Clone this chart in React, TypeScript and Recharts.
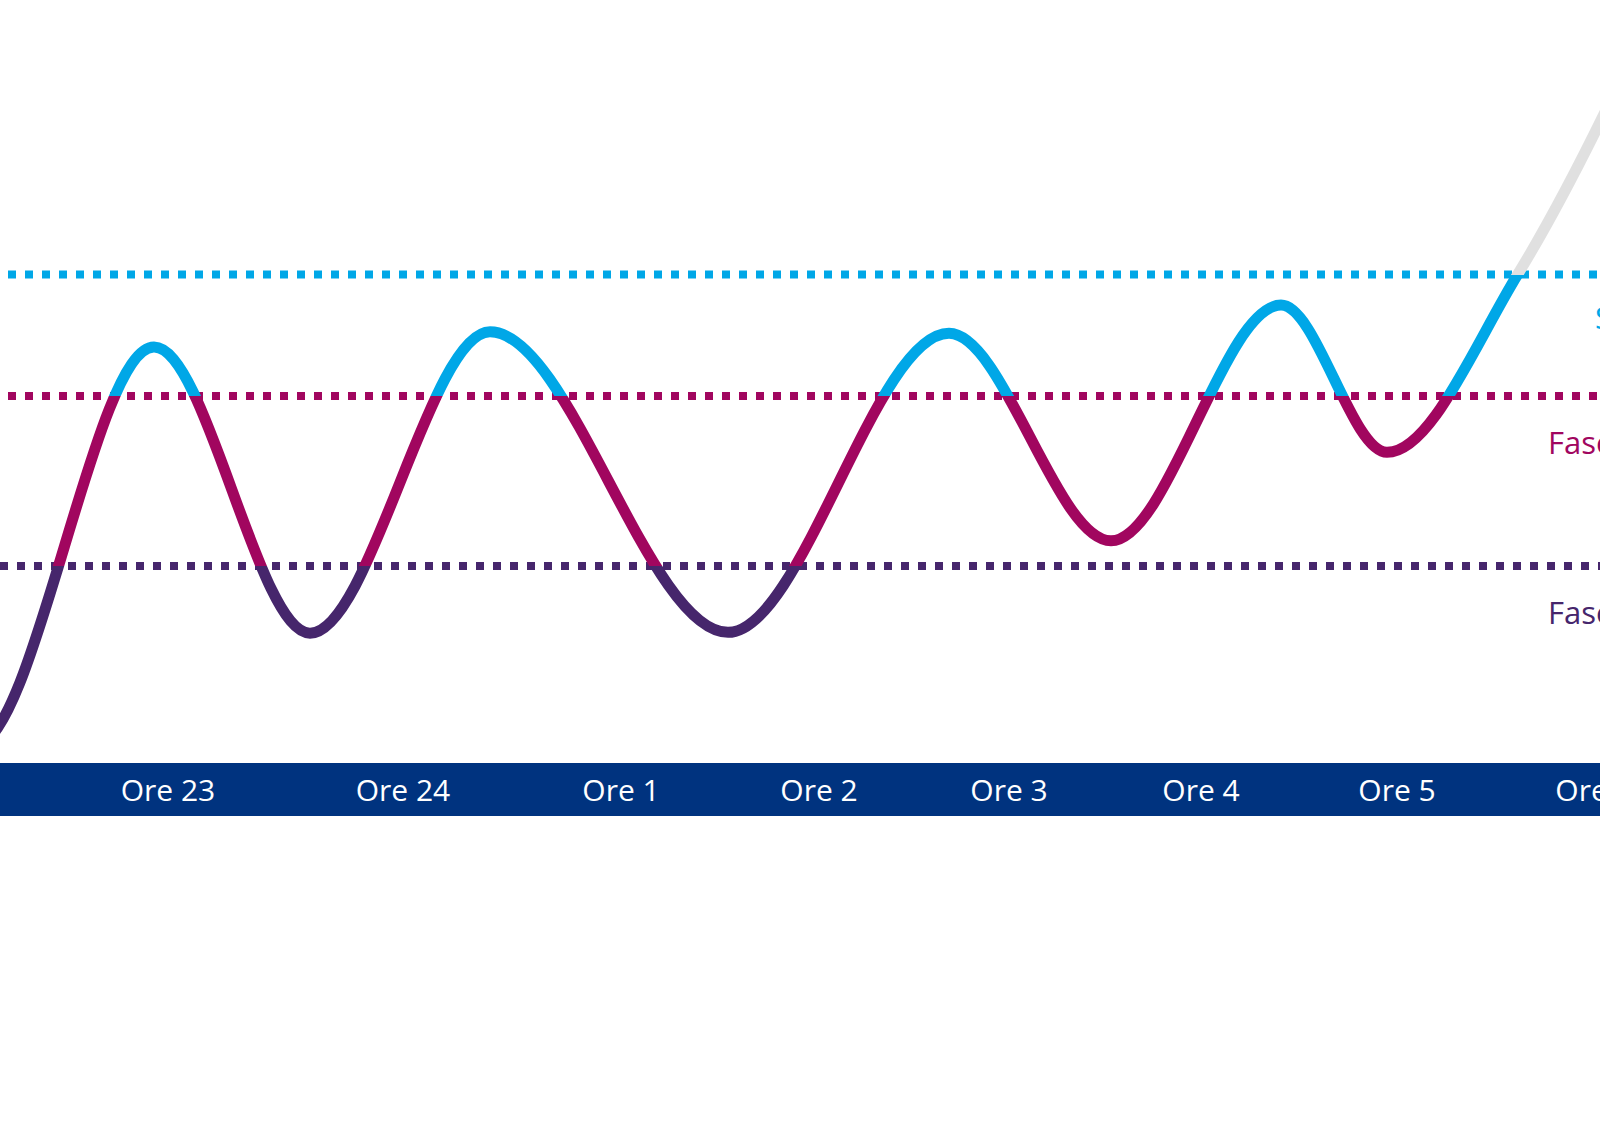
import { LineChart, Line, XAxis, YAxis, ReferenceLine } from "recharts";

// Palette
const CYAN = "#00A7E7";
const MAGENTA = "#A1065F";
const PURPLE = "#46266C";
const GREY = "#E0E0E0";
const NAVY = "#00337F";

// Curve: hours along the night (x) and sleep depth level (y)
const hours = [-1.5, -0.25, 1.54, 3.1, 4.9, 7.28, 9.49, 11.11, 12.81, 13.87, 15.18, 17.0];
const depth = [30, 2.3, 54.5, 17.0, 56.5, 17.1, 56.3, 29.1, 60.0, 40.7, 64.1, 112];

// Bottom band ticks
const tickPositions = [1.68, 4.03, 6.21, 8.19, 10.09, 12.01, 13.97, 15.94];
const tickLabels = ["Ore 23", "Ore 24", "Ore 1", "Ore 2", "Ore 3", "Ore 4", "Ore 5", "Ore 6"];

// Threshold levels (dotted lines) and their names
const levelValues = [64.0, 48.1, 25.8];
const levelNames = ["Sonno REM", "Fase 2", "Fase 1"];
const levelColors = [CYAN, MAGENTA, PURPLE];

const data = hours.map((t, i) => ({ t, v: depth[i] }));

const W = 1600;
const H = 1125;
const FONT = "'Open Sans', Lato, sans-serif";

function BandTick(props: any) {
  const { x, y, payload } = props;
  const idx = tickPositions.indexOf(payload.value);
  return (
    <text
      x={x}
      y={y}
      fill="#FFFFFF"
      fontSize={30}
      fontFamily={FONT}
      textAnchor="middle"
      dominantBaseline="central"
    >
      {tickLabels[idx]}
    </text>
  );
}

function SideLabel(props: any) {
  const { viewBox, text, color, dx, dy } = props;
  const vb = viewBox || { x: 0, y: 0, width: W };
  return (
    <text x={vb.x + vb.width - dx} y={vb.y + dy} fill={color} fontSize={31} fontFamily={FONT}>
      {text}
    </text>
  );
}

// label offsets from the right edge / below each line
const labelDx = [5, 52, 52];
const labelDy = [54, 58, 58];
const dashOffsets = [9, 9, 0];

export default function App() {
  const maxV = Math.max(...depth);
  const minV = Math.min(...depth);
  const off = (v: number) => (maxV - v) / (maxV - minV);

  return (
    <div
      style={{
        position: "absolute",
        left: 0,
        top: 0,
        width: W,
        height: H,
        overflow: "hidden",
        background: "#FFFFFF",
      }}
    >
      <LineChart width={W} height={H} data={data} margin={{ top: 0, right: 0, bottom: 309, left: 0 }}>
        <defs>
          <linearGradient id="phaseStroke" x1="0" y1="0" x2="0" y2="1">
            <stop offset={0} stopColor={GREY} />
            <stop offset={off(levelValues[0])} stopColor={GREY} />
            <stop offset={off(levelValues[0])} stopColor={CYAN} />
            <stop offset={off(levelValues[1])} stopColor={CYAN} />
            <stop offset={off(levelValues[1])} stopColor={MAGENTA} />
            <stop offset={off(levelValues[2])} stopColor={MAGENTA} />
            <stop offset={off(levelValues[2])} stopColor={PURPLE} />
            <stop offset={1} stopColor={PURPLE} />
          </linearGradient>
        </defs>
        <XAxis
          type="number"
          dataKey="t"
          domain={[0, 16]}
          allowDataOverflow
          ticks={tickPositions}
          interval={0}
          height={26.5}
          axisLine={{ stroke: NAVY, strokeWidth: 53 }}
          tickLine={false}
          tickSize={0}
          tickMargin={0}
          tick={<BandTick />}
        />
        <YAxis hide domain={[-3.5, 100]} allowDataOverflow />
        {levelValues.map((lv, i) => (
          <ReferenceLine
            key={levelNames[i]}
            y={lv}
            stroke={levelColors[i]}
            strokeWidth={8}
            strokeDasharray="8 9"
            strokeDashoffset={dashOffsets[i]}
            label={<SideLabel text={levelNames[i]} color={levelColors[i]} dx={labelDx[i]} dy={labelDy[i]} />}
          />
        ))}
        <Line
          type="monotone"
          dataKey="v"
          stroke="url(#phaseStroke)"
          strokeWidth={11}
          dot={false}
          activeDot={false}
          isAnimationActive={false}
        />
      </LineChart>
    </div>
  );
}
